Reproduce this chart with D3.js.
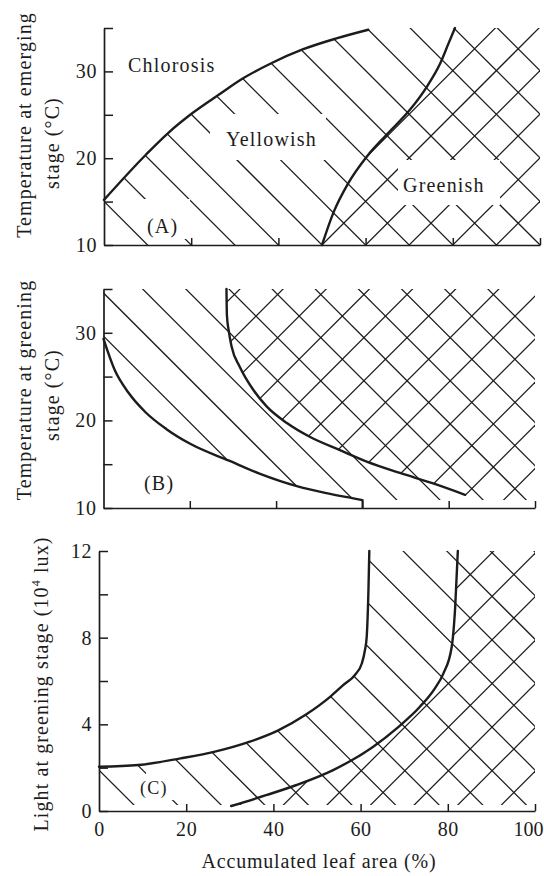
<!DOCTYPE html>
<html><head><meta charset="utf-8">
<script src="https://cdn.jsdelivr.net/npm/d3@7"></script>
<style>
html,body{margin:0;padding:0;background:#fff;}
svg{display:block;}
text{font-family:"Liberation Serif","Times New Roman",serif;fill:#1c1c1c;}
</style></head><body>
<svg id="chart" width="544" height="876"></svg>
<script>
// ---------------- data ----------------
const xDomain = [0, 100];
const xTickValuesTop = [20, 40, 60, 80, 100];
const xTickValuesBottom = [0, 20, 40, 60, 80, 100];
const tempDomain = [10, 35];
const tempTicks = [10, 15, 20, 25, 30, 35];
const tempTickLabels = [10, 20, 30];
const lightDomain = [0, 12];
const lightTicks = [0, 2, 4, 6, 8, 10, 12];
const lightTickLabels = [0, 4, 8, 12];

// (A) boundaries: accumulated leaf area (%) vs temperature at emerging stage
const aChlorosisEdge = [[0,15.2],[9.6,20.4],[14.7,22.9],[20.3,25.2],[26.3,27.3],[31.9,29.2],[38.6,31.0],[45.4,32.5],[53.3,33.8],[60.6,34.8]];
const aGreenishEdge = [[50,10],[52.6,13.7],[56,17.1],[60.3,20.2],[64.8,22.7],[70.2,25.6],[74,28.2],[77.1,30.9],[79,33.2],[80.5,35]];
// (B) boundaries: temperature at greening stage
const bChlorosisEdge = [[0,29.3],[2.55,25.8],[5.8,23.15],[9.8,20.9],[14.6,19.0],[20.2,17.3],[29.1,15.4],[36.3,13.9],[44.8,12.5],[51.7,11.7],[57.9,11.1],[60,10.9]];
const bChlorosisDrop = [[60,10.9],[60,10]];
const bGreenishEdge = [[28.5,35],[28.6,32],[29,30.3],[29.7,28.4],[31.6,26.1],[34.7,23.5],[37.8,21.6],[42.5,19.7],[47.9,18.1],[54.8,16.6],[61,15.3],[68.7,14],[76.4,12.8],[83.8,11.5]];
// (C) boundaries: light at greening stage (10^4 lux)
const cChlorosisEdge = [[0,2.04],[9,2.12],[18.7,2.43],[26.6,2.74],[34.6,3.2],[41,3.71],[47.3,4.43],[53,5.27],[56,5.81],[58.7,6.28],[60.3,6.82],[61,7.43],[61.4,8.04],[61.8,10.2],[62,12]];
const cGreenishEdge = [[30.3,0.23],[38.5,0.74],[45.3,1.2],[53.7,1.89],[62.9,2.97],[68.5,3.85],[73.6,4.81],[77,5.65],[79,6.35],[80.9,7.58],[81.7,9.43],[82.3,12]];

// hatch line anchors (leaf area %) on each panel's hatch base level
const aHatchBase = 10;
const aBackAnchors = [10,20,30,40,50,60,70,80,90,100,110,120,130,140,150];
const aFwdAnchors = [20,30,40,50,60,70,80,90,100];
const bHatchBase = 10.9;
const bBackAnchors = [28,38,48,58,68,78,88,98,108,118,128,138];
const bFwdAnchors = [-17.3,-7.3,2.7,12.7,22.7,32.7,42.7,52.7,62.7,72.7,82.7,92.7];
const cHatchBase = 0.28;
const cBackAnchors = [8,18,28,38,48,58,68,78,88,98,108,118,128,138,148,158];
const cFwdAnchors = [-27.7,-17.7,-7.7,2.3,12.3,22.3,32.3,42.3,52.3,62.3,72.3,82.3,92.3];

// ---------------- drawing ----------------
const svg = d3.select('#chart');
const INK = '#1c1c1c';
const defs = svg.append('defs');

const xA = d3.scaleLinear(xDomain, [104, 540]);
const yA = d3.scaleLinear(tempDomain, [245, 28]);
const xB = d3.scaleLinear(xDomain, [103.5, 535]);
const yB = d3.scaleLinear(tempDomain, [508, 289]);
const xC = d3.scaleLinear(xDomain, [99, 535]);
const yC = d3.scaleLinear(lightDomain, [811, 551]);

function curveGen(x, y) {
  return d3.line().x(d => x(d[0])).y(d => y(d[1])).curve(d3.curveMonotoneX);
}
function linGen(x, y) {
  return d3.line().x(d => x(d[0])).y(d => y(d[1]));
}
function clipFrom(id, x, y, edge, tail) {
  const p = curveGen(x, y)(edge) + tail.map(d => 'L' + x(d[0]) + ',' + y(d[1])).join('') + 'Z';
  defs.append('clipPath').attr('id', id).append('path').attr('d', p);
}
function hatch(g, clipId, x, y, anchors, base, dir) {
  const grp = g.append('g').attr('clip-path', `url(#${clipId})`);
  const L = 700;
  anchors.forEach(a => {
    const x0 = x(a), y0 = y(base);
    grp.append('line')
      .attr('x1', x0 + 30 * (dir === 'back' ? 1 : -1)).attr('y1', y0 + 30)
      .attr('x2', dir === 'back' ? x0 - L : x0 + L).attr('y2', y0 - L)
      .attr('stroke', INK).attr('stroke-width', 1.25);
  });
}

// clip regions
clipFrom('aBack', xA, yA, aChlorosisEdge, [[60.6,35],[100,35],[100,10],[0,10]]);
clipFrom('aFwd', xA, yA, aGreenishEdge, [[100,35],[100,10]]);
clipFrom('bBack', xB, yB, bChlorosisEdge, [[100,10.9],[100,35],[0,35]]);
clipFrom('bFwd', xB, yB, bGreenishEdge, [[83.8,10.9],[100,10.9],[100,35]]);
clipFrom('cBack', xC, yC, cChlorosisEdge, [[100,12],[100,0.28],[0,0.28]]);
clipFrom('cFwd', xC, yC, cGreenishEdge, [[100,12],[100,0.28],[30.3,0.28]]);

const gH = svg.append('g');
hatch(gH, 'aBack', xA, yA, aBackAnchors, aHatchBase, 'back');
hatch(gH, 'aFwd', xA, yA, aFwdAnchors, aHatchBase, 'fwd');
hatch(gH, 'bBack', xB, yB, bBackAnchors, bHatchBase, 'back');
hatch(gH, 'bFwd', xB, yB, bFwdAnchors, bHatchBase, 'fwd');
hatch(gH, 'cBack', xC, yC, cBackAnchors, cHatchBase, 'back');
hatch(gH, 'cFwd', xC, yC, cFwdAnchors, cHatchBase, 'fwd');

// label clearings
const gaps = [[210,114,116,46],[144,199,46,40],[398,160,102,45],[146,770,30,30]];
svg.append('g').selectAll('rect').data(gaps).join('rect')
  .attr('x', d => d[0]).attr('y', d => d[1]).attr('width', d => d[2]).attr('height', d => d[3])
  .attr('fill', '#fff');

// boundary curves
const gC = svg.append('g').attr('fill', 'none').attr('stroke', INK).attr('stroke-width', 2.4).attr('stroke-linecap', 'round');
gC.append('path').attr('d', curveGen(xA, yA)(aChlorosisEdge));
gC.append('path').attr('d', curveGen(xA, yA)(aGreenishEdge));
gC.append('path').attr('d', curveGen(xB, yB)(bChlorosisEdge));
gC.append('path').attr('d', linGen(xB, yB)(bChlorosisDrop)).attr('stroke-width', 1.8);
gC.append('path').attr('d', curveGen(xB, yB)(bGreenishEdge));
gC.append('path').attr('d', curveGen(xC, yC)(cChlorosisEdge));
gC.append('path').attr('d', curveGen(xC, yC)(cGreenishEdge));

// axes
function styleAxis(g) {
  g.attr('font-family', null).attr('font-size', null);
  g.selectAll('path.domain').attr('stroke', INK).attr('stroke-width', 1.7);
  g.selectAll('.tick line').attr('stroke', INK).attr('stroke-width', 1.5);
  g.selectAll('.tick text').attr('fill', INK).style('font-size', '20px').style('letter-spacing', '0.6px');
}
function leftAxis(x, y, ticks, labels, tx) {
  svg.append('g').attr('transform', `translate(${tx},0)`)
    .call(d3.axisLeft(y).tickValues(ticks).tickSize(-9).tickSizeOuter(0).tickPadding(7)
      .tickFormat(d => labels.includes(d) ? d : ''))
    .call(styleAxis);
}
function bottomAxis(x, ty, ticks, labels) {
  return svg.append('g').attr('transform', `translate(0,${ty})`)
    .call(d3.axisBottom(x).tickValues(ticks).tickSize(-7).tickSizeOuter(0).tickPadding(11)
      .tickFormat(d => labels ? d : ''))
    .call(styleAxis);
}
leftAxis(xA, yA, tempTicks, tempTickLabels, xA(0));
bottomAxis(xA, yA(10), xTickValuesTop, false);
leftAxis(xB, yB, tempTicks, tempTickLabels, xB(0));
bottomAxis(xB, yB(10), xTickValuesTop, false);
leftAxis(xC, yC, lightTicks, lightTickLabels, xC(0));
const cx = bottomAxis(xC, yC(0), xTickValuesBottom, true);
cx.selectAll('.tick').filter(d => d === 0).select('line').attr('stroke-opacity', 0);
cx.selectAll('.tick').filter(d => d === 100).select('text')
  .attr('text-anchor', 'end').attr('x', 543 - xC(100)).style('letter-spacing', '0px');

// region labels
const lab = svg.append('g').style('font-size', '20px').style('letter-spacing', '1.2px');
lab.append('text').attr('x', 128).attr('y', 72).text('Chlorosis');
lab.append('text').attr('x', 226).attr('y', 146).text('Yellowish');
lab.append('text').attr('x', 403).attr('y', 192).text('Greenish');
lab.append('text').attr('x', 147).attr('y', 233).text('(A)');
lab.append('text').attr('x', 144).attr('y', 490).text('(B)');
lab.append('text').attr('x', 140).attr('y', 794).style('font-size', '18px').text('(C)');

// axis titles
const tt = svg.append('g').style('font-size', '20px').style('letter-spacing', '1.1px').attr('text-anchor', 'middle');
function vtitle(x, y, s) {
  return tt.append('text').attr('transform', `translate(${x},${y}) rotate(-90)`).text(s);
}
vtitle(31, 125, 'Temperature at emerging');
vtitle(59, 143, 'stage (\u00B0C)');
vtitle(31, 390, 'Temperature at greening');
vtitle(59, 395, 'stage (\u00B0C)');
const lt = vtitle(48, 684, 'Light at greening stage (10');
lt.append('tspan').attr('dy', -8).style('font-size', '12px').text('4');
lt.append('tspan').attr('dy', 8).text(' lux)');
tt.append('text').attr('x', 319).attr('y', 868).style('letter-spacing', '0.8px').text('Accumulated leaf area (%)');
</script>
</body></html>
